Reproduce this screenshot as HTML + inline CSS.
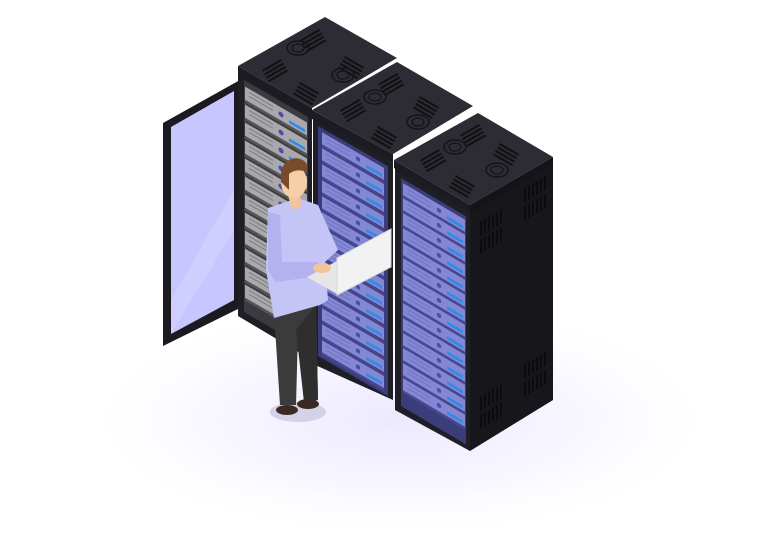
<!DOCTYPE html>
<html><head><style>html,body{margin:0;padding:0;background:#fff;width:778px;height:555px;overflow:hidden}</style></head>
<body>
<svg width="778" height="555" viewBox="0 0 778 555" xmlns="http://www.w3.org/2000/svg">
<defs>
<radialGradient id="sh" cx="0.5" cy="0.5" r="0.5">
<stop offset="0" stop-color="#e6e3ff" stop-opacity="0.8"/>
<stop offset="0.6" stop-color="#f1efff" stop-opacity="0.5"/>
<stop offset="1" stop-color="#ffffff" stop-opacity="0"/>
</radialGradient>
<g id="vent"><rect x="0" y="0" width="22" height="2" fill="#111"/><rect x="0" y="4" width="22" height="2" fill="#111"/><rect x="0" y="8" width="22" height="2" fill="#111"/><rect x="0" y="12" width="22" height="2" fill="#111"/></g>
<g id="vv"><rect x="0" y="0" width="2" height="14" fill="#0c0c0f"/><rect x="4" y="0" width="2" height="14" fill="#0c0c0f"/><rect x="8" y="0" width="2" height="14" fill="#0c0c0f"/><rect x="12" y="0" width="2" height="14" fill="#0c0c0f"/><rect x="16" y="0" width="2" height="14" fill="#0c0c0f"/><rect x="20" y="0" width="2" height="14" fill="#0c0c0f"/></g>
<g id="fan"><ellipse cx="0" cy="0" rx="11" ry="7" fill="none" stroke="#151419" stroke-width="1.5"/><ellipse cx="0" cy="0" rx="6" ry="4" fill="none" stroke="#151419" stroke-width="1.2"/></g>
<g id="srv"><rect x="0" y="0" width="62" height="13" fill="#8487d4"/><rect x="0" y="12" width="62" height="3" fill="#45478f"/><rect x="4" y="3" width="24" height="1" fill="#6e71c0"/><rect x="4" y="7" width="24" height="1" fill="#6e71c0"/><circle cx="36" cy="6" r="2.2" fill="#4a4ea8"/><rect x="44" y="7" width="16" height="3" fill="#2f8be8"/></g>
<g id="gsrv"><rect x="0" y="0" width="62" height="15" fill="#a9a9ad"/><rect x="0" y="13" width="62" height="3" fill="#555"/><rect x="4" y="3" width="24" height="1" fill="#777"/><rect x="4" y="7" width="24" height="1" fill="#777"/><circle cx="36" cy="7" r="2.5" fill="#4a4ea8"/><rect x="44" y="8" width="16" height="3" fill="#2f8be8"/></g>
</defs>
<ellipse cx="400" cy="420" rx="320" ry="120" fill="url(#sh)"/>

<polygon points="163,123 240,80 240,308 163,346" fill="#1b1a20"/>
<polygon points="171,127 234,91 234,300 171,334" fill="#c8c6ff"/>
<polygon points="171,300 234,190 234,230 171,334" fill="#d6d4ff" opacity="0.6"/>

<polygon points="238,72 312,115 312,360 238,316" fill="#1f1e25"/>
<g transform="matrix(1,0.58,0,1,244,80)">
<rect x="0" y="0" width="64" height="232" fill="#3a3a40"/>
<use href="#gsrv" x="1" y="6"/><use href="#gsrv" x="1" y="24"/><use href="#gsrv" x="1" y="42"/><use href="#gsrv" x="1" y="60"/><use href="#gsrv" x="1" y="78"/><use href="#gsrv" x="1" y="96"/><use href="#gsrv" x="1" y="114"/><use href="#gsrv" x="1" y="132"/><use href="#gsrv" x="1" y="150"/><use href="#gsrv" x="1" y="168"/><use href="#gsrv" x="1" y="186"/><use href="#gsrv" x="1" y="204"/>
</g>
<polygon points="238,66 325,17 397,58 312,108" fill="#2d2c35"/>
<polygon points="238,66 312,108 312,117 238,75" fill="#1c1b22"/>

<polygon points="313,117 393,163 393,400 313,364" fill="#1f1e25"/>
<g transform="matrix(1,0.575,0,1,318,126)">
<rect x="0" y="0" width="70" height="230" fill="#3b3d7a"/>
<use href="#srv" x="4" y="4"/><use href="#srv" x="4" y="20"/><use href="#srv" x="4" y="36"/><use href="#srv" x="4" y="52"/><use href="#srv" x="4" y="68"/><use href="#srv" x="4" y="84"/><use href="#srv" x="4" y="100"/><use href="#srv" x="4" y="116"/><use href="#srv" x="4" y="132"/><use href="#srv" x="4" y="148"/><use href="#srv" x="4" y="164"/><use href="#srv" x="4" y="180"/><use href="#srv" x="4" y="196"/><use href="#srv" x="4" y="212"/>
</g>
<polygon points="312,110 397,62 473,106 393,154" fill="#2d2c35"/>
<polygon points="312,110 393,154 393,163 312,119" fill="#1c1b22"/>

<polygon points="395,167 470,211 470,451 395,410" fill="#1f1e25"/>
<polygon points="470,211 553,163 553,400 470,451" fill="#17161b"/>
<g transform="matrix(1,0.59,0,1,401,178)">
<rect x="0" y="0" width="65" height="228" fill="#3b3d7a"/>
<use href="#srv" x="2" y="4"/><use href="#srv" x="2" y="19"/><use href="#srv" x="2" y="34"/><use href="#srv" x="2" y="49"/><use href="#srv" x="2" y="64"/><use href="#srv" x="2" y="79"/><use href="#srv" x="2" y="94"/><use href="#srv" x="2" y="109"/><use href="#srv" x="2" y="124"/><use href="#srv" x="2" y="139"/><use href="#srv" x="2" y="154"/><use href="#srv" x="2" y="169"/><use href="#srv" x="2" y="184"/><use href="#srv" x="2" y="199"/>
</g>
<g transform="matrix(1,-0.58,0,1,480,222)">
<use href="#vv" x="0" y="0"/><use href="#vv" x="0" y="18"/><use href="#vv" x="44" y="-8"/><use href="#vv" x="44" y="10"/>
<use href="#vv" x="0" y="175"/><use href="#vv" x="0" y="193"/><use href="#vv" x="44" y="168"/><use href="#vv" x="44" y="186"/>
</g>
<polygon points="394,160 478,113 553,157 470,205" fill="#2d2c35"/>
<polygon points="394,160 470,205 470,213 394,168" fill="#1c1b22"/>
<polygon points="470,205 553,157 553,165 470,213" fill="#141318"/>

<g>
<g transform="translate(300,40) rotate(-30)"><use href="#vent"/></g>
<g transform="translate(262,70) rotate(-30)"><use href="#vent"/></g>
<g transform="translate(345,56) rotate(30)"><use href="#vent"/></g>
<g transform="translate(300,82) rotate(30)"><use href="#vent"/></g>
<g transform="translate(378,84) rotate(-30)"><use href="#vent"/></g>
<g transform="translate(340,110) rotate(-30)"><use href="#vent"/></g>
<g transform="translate(420,96) rotate(30)"><use href="#vent"/></g>
<g transform="translate(378,126) rotate(30)"><use href="#vent"/></g>
<g transform="translate(460,135) rotate(-30)"><use href="#vent"/></g>
<g transform="translate(420,160) rotate(-30)"><use href="#vent"/></g>
<g transform="translate(500,143) rotate(30)"><use href="#vent"/></g>
<g transform="translate(456,175) rotate(30)"><use href="#vent"/></g>
</g>
<use href="#fan" x="298" y="48"/><use href="#fan" x="343" y="75"/>
<use href="#fan" x="375" y="97"/><use href="#fan" x="418" y="122"/>
<use href="#fan" x="455" y="147"/><use href="#fan" x="497" y="170"/>

<ellipse cx="298" cy="412" rx="28" ry="10" fill="#d4d2e6"/>
<polygon points="274,312 316,300 318,400 304,402 298,330 296,405 280,405" fill="#3b3b3b"/>
<polygon points="296,330 304,402 318,400 316,305" fill="#2e2e2e"/>
<ellipse cx="287" cy="410" rx="11" ry="5" fill="#3a2a22"/>
<ellipse cx="308" cy="404" rx="11" ry="5" fill="#3a2a22"/>
<polygon points="268,208 298,198 318,205 338,250 325,262 328,300 320,305 274,318 266,270" fill="#c5c4f6"/>
<polygon points="268,212 280,215 282,262 318,262 320,276 276,282 268,270" fill="#b4b2ee"/>
<polygon points="288,195 300,195 302,206 292,210" fill="#f2c49c"/>
<ellipse cx="294" cy="182" rx="13" ry="16" fill="#f6cfa8"/>
<path d="M281,182 Q279,160 296,158 Q310,160 307,172 Q296,168 289,174 L289,190 Z" fill="#7a4a2c"/>
<polygon points="307,277 337,261 337,294" fill="#e6e6e6"/>
<polygon points="337,258 391,229 391,267 337,295" fill="#f2f2f2" stroke="#d8d8d8"/>
<ellipse cx="322" cy="268" rx="9" ry="5" fill="#f2c49c"/>
</svg>
</body></html>
